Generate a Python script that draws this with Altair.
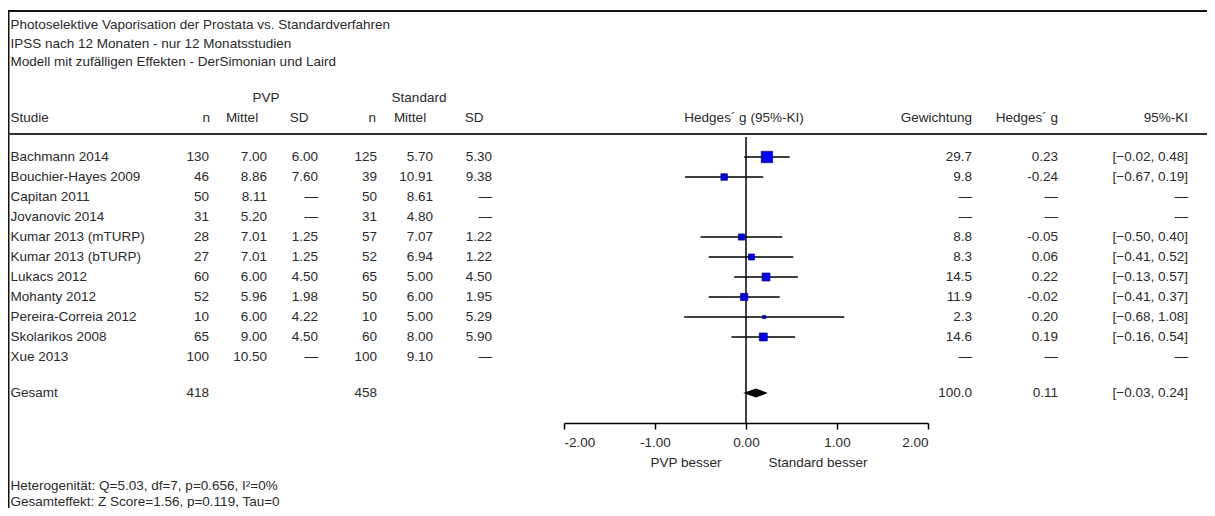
import altair as alt
import pandas as pd

# ---------------- data ----------------
title_lines = [
    "Photoselektive Vaporisation der Prostata vs. Standardverfahren",
    "IPSS nach 12 Monaten - nur 12 Monatsstudien",
    "Modell mit zufälligen Effekten - DerSimonian und Laird",
]
studies = ["Bachmann 2014", "Bouchier-Hayes 2009", "Capitan 2011", "Jovanovic 2014",
           "Kumar 2013 (mTURP)", "Kumar 2013 (bTURP)", "Lukacs 2012", "Mohanty 2012",
           "Pereira-Correia 2012", "Skolarikos 2008", "Xue 2013"]
pvp_n = [130, 46, 50, 31, 28, 27, 60, 52, 10, 65, 100]
pvp_mean = [7.00, 8.86, 8.11, 5.20, 7.01, 7.01, 6.00, 5.96, 6.00, 9.00, 10.50]
pvp_sd = [6.00, 7.60, None, None, 1.25, 1.25, 4.50, 1.98, 4.22, 4.50, None]
std_n = [125, 39, 50, 31, 57, 52, 65, 50, 10, 60, 100]
std_mean = [5.70, 10.91, 8.61, 4.80, 7.07, 6.94, 5.00, 6.00, 5.00, 8.00, 9.10]
std_sd = [5.30, 9.38, None, None, 1.22, 1.22, 4.50, 1.95, 5.29, 5.90, None]
weights = [29.7, 9.8, None, None, 8.8, 8.3, 14.5, 11.9, 2.3, 14.6, None]
hedges_g = [0.23, -0.24, None, None, -0.05, 0.06, 0.22, -0.02, 0.20, 0.19, None]
ci_low = [-0.02, -0.67, None, None, -0.50, -0.41, -0.13, -0.41, -0.68, -0.16, None]
ci_high = [0.48, 0.19, None, None, 0.40, 0.52, 0.57, 0.37, 1.08, 0.54, None]

total_label = "Gesamt"
total_pvp_n = 418
total_std_n = 458
total_weight = 100.0
total_g = 0.11
total_low = -0.03
total_high = 0.24

axis_ticks = [-2, -1, 0, 1, 2]
null_effect = [0]
favours = ["PVP besser", "Standard besser"]
footer_lines = [
    "Heterogenität: Q=5.03, df=7, p=0.656, I²=0%",
    "Gesamteffekt: Z Score=1.56, p=0.119, Tau=0",
]

# ---------------- styling ----------------
FONT = "Liberation Sans"
FS = 13.5
TC = "#2a2a2a"
DASH = "—"


def f2(v):
    return DASH if v is None else f"{v:.2f}"


def f1(v):
    return DASH if v is None else f"{v:.1f}"


def fci(lo, hi):
    if lo is None:
        return DASH
    return f"[{lo:.2f}, {hi:.2f}]".replace("-", "−")


rows = []
for i, s in enumerate(studies):
    rows.append(dict(r=i, study=s, pn=str(pvp_n[i]), pm=f2(pvp_mean[i]), psd=f2(pvp_sd[i]),
                     sn=str(std_n[i]), sm=f2(std_mean[i]), ssd=f2(std_sd[i]),
                     wt=f1(weights[i]), gt=f2(hedges_g[i]), cit=fci(ci_low[i], ci_high[i]),
                     w=weights[i], g=hedges_g[i], lo=ci_low[i], hi=ci_high[i]))
total_r = len(studies) + 0.8
rows.append(dict(r=total_r, study=total_label, pn=str(total_pvp_n), pm="", psd="",
                 sn=str(total_std_n), sm="", ssd="", wt=f1(total_weight), gt=f2(total_g),
                 cit=fci(total_low, total_high), w=None, g=None, lo=None, hi=None))
df = pd.DataFrame(rows)
df_est = df[df["w"].notna()].copy()

half_h = 0.22
diamond = pd.DataFrame({
    "x": [total_low, total_g, total_high],
    "yt": [total_r, total_r - half_h, total_r],
    "yb": [total_r, total_r + half_h, total_r],
})

# scales (chart coordinates = page - 8)
ROW0, ROWH = 149, 20
AXIS_Y = 415
ys = alt.Scale(domain=[0, len(studies)], range=[ROW0, ROW0 + ROWH * len(studies)], nice=False, zero=False)
xs = alt.Scale(domain=[-2, 2], range=[556, 920], nice=False, zero=False)
xaxis = alt.Axis(values=axis_ticks, title=None, grid=False,
                 labelExpr="replace(format(datum.value, '.2f'), '\u2212', '-')",
                 domainColor="black", domainWidth=1.5, tickColor="black", tickWidth=1.5,
                 tickSize=6, labelFont=FONT, labelFontSize=FS, labelColor=TC, labelPadding=6)
Y = alt.Y("r:Q", scale=ys, axis=None)

dummy = pd.DataFrame({"a": [0]})


def col(field, x, align="right"):
    return alt.Chart(df).mark_text(align=align, baseline="middle", font=FONT, fontSize=FS,
                                   color=TC).encode(x=alt.value(x), y=Y, text=f"{field}:N")


def label(t, x, y, align="left"):
    return alt.Chart(pd.DataFrame({"t": [t]})).mark_text(
        align=align, baseline="middle", font=FONT, fontSize=FS, color=TC
    ).encode(x=alt.value(x), y=alt.value(y), text="t:N")


def hline(x1, x2, y, w=2, c="#111"):
    return alt.Chart(dummy).mark_rule(color=c, strokeWidth=w).encode(
        x=alt.value(x1), x2=alt.value(x2), y=alt.value(y))


def vline(x, y1, y2, w=2, c="#111"):
    return alt.Chart(dummy).mark_rule(color=c, strokeWidth=w).encode(
        x=alt.value(x), y=alt.value(y1), y2=alt.value(y2))


layers = []
# frame
layers.append(hline(0, 1199, 3, 2))
layers.append(vline(0.5, 3, 500, 2))
layers.append(hline(0, 1199, 126, 2, "#333"))

# titles
for k, t in enumerate(title_lines):
    layers.append(label(t, 2.5, 17 + 18.5 * k))

# group headers
layers.append(label("PVP", 258, 90, "center"))
layers.append(label("Standard", 411, 90, "center"))

# column headers
hy = 110
layers += [
    label("Studie", 2.5, hy),
    label("n", 202, hy, "right"),
    label("Mittel", 234, hy, "center"),
    label("SD", 291, hy, "center"),
    label("n", 368, hy, "right"),
    label("Mittel", 402, hy, "center"),
    label("SD", 466, hy, "center"),
    label("Hedges´ g (95%-KI)", 736, hy, "center"),
    label("Gewichtung", 964, hy, "right"),
    label("Hedges´ g", 1050, hy, "right"),
    label("95%-KI", 1180, hy, "right"),
]

# table columns
layers += [
    col("study", 2.5, "left"),
    col("pn", 201), col("pm", 259), col("psd", 310),
    col("sn", 369), col("sm", 425), col("ssd", 484),
    col("wt", 964), col("gt", 1050), col("cit", 1180),
]

# forest plot
zero_line = alt.Chart(pd.DataFrame({"z": null_effect})).mark_rule(color="black", strokeWidth=1.5).encode(
    x=alt.X("z:Q", scale=xs, axis=xaxis), y=alt.value(129), y2=alt.value(AXIS_Y))
ci_rules = alt.Chart(df_est).mark_rule(color="black", strokeWidth=1.5).encode(
    x=alt.X("lo:Q", scale=xs, axis=xaxis), x2="hi:Q", y=Y)
squares = alt.Chart(df_est).mark_square(filled=True, fill="#0000f0", stroke="#000070",
                                        strokeWidth=0.7, opacity=1).encode(
    x=alt.X("g:Q", scale=xs, axis=xaxis), y=Y,
    size=alt.Size("w:Q", scale=alt.Scale(domain=[0, 30], range=[0, 130]), legend=None))
dia = alt.Chart(diamond).mark_area(color="black", orient="vertical", opacity=1).encode(
    x=alt.X("x:Q", scale=xs, axis=xaxis), y=alt.Y("yt:Q", scale=ys, axis=None), y2="yb:Q")
layers = [zero_line, ci_rules, squares, dia] + layers

# favours labels
layers.append(label(favours[0], 678, 455, "center"))
layers.append(label(favours[1], 810, 455, "center"))

# footer
for k, t in enumerate(footer_lines):
    layers.append(label(t, 2.5, 478 + 16 * k))

chart = alt.layer(*layers).properties(
    width=1199, height=AXIS_Y,
    padding={"left": 0, "right": 0, "top": 0, "bottom": 500 - AXIS_Y},
    autosize="none",
).configure_view(stroke=None)

chart.save("out.html", embed_options={"renderer": "svg", "actions": False})
